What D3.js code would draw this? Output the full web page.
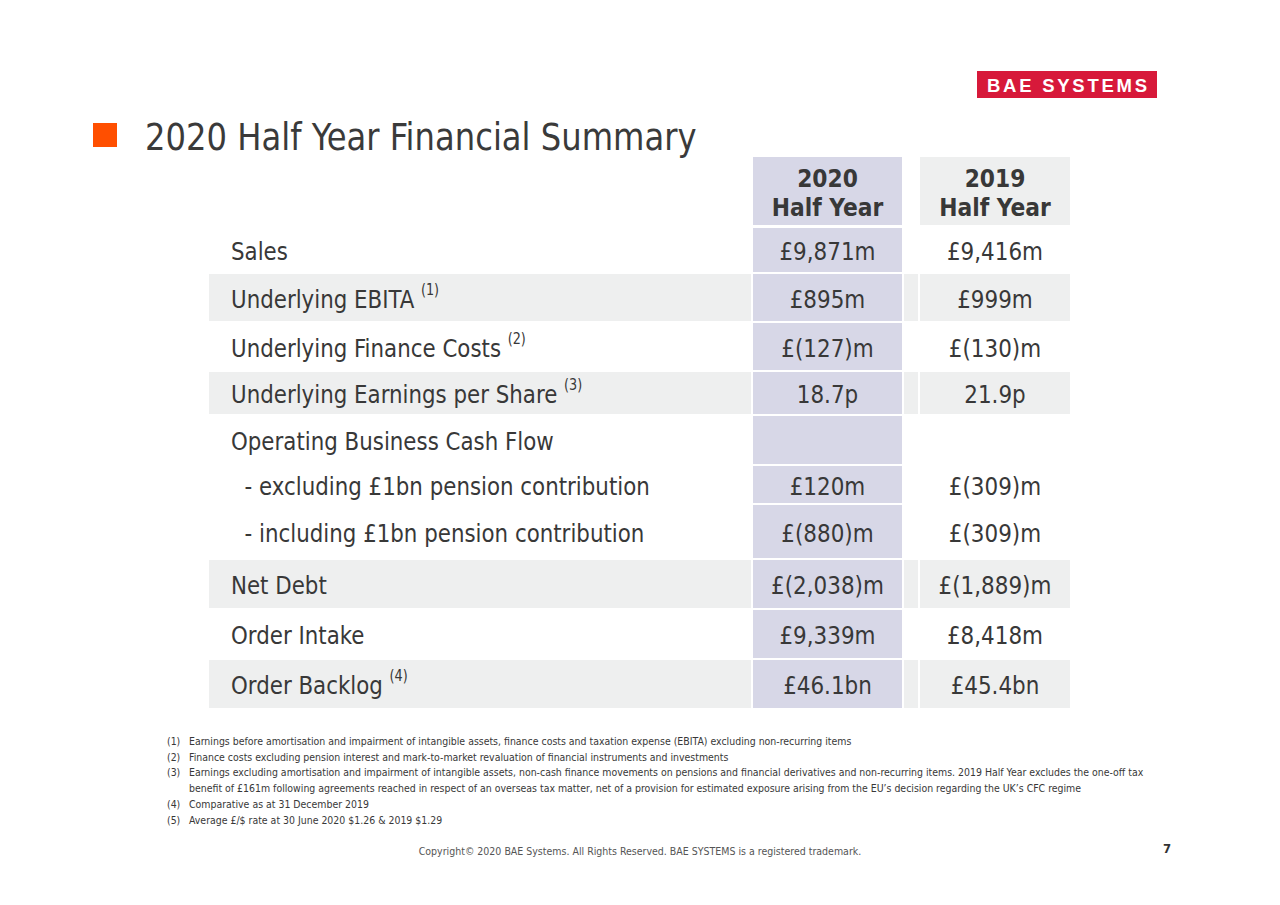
<!DOCTYPE html>
<html>
<head>
<meta charset="utf-8">
<script src="https://cdn.jsdelivr.net/npm/d3@7"></script>
<style>
  body { margin: 0; background: #fff; }
  text { font-family: "DejaVu Sans Condensed", "DejaVu Sans", sans-serif; }
</style>
</head>
<body>
<div id="chart"></div>
<script>
// table content
var rowLabels = ["Sales", "Underlying EBITA", "Underlying Finance Costs", "Underlying Earnings per Share",
    "Operating Business Cash Flow", "  - excluding £1bn pension contribution", "  - including £1bn pension contribution",
    "Net Debt", "Order Intake", "Order Backlog"]
var rowNotes = ["", "(1)", "(2)", "(3)", "", "", "", "", "", "(4)"]
var shadedRows = ["Underlying EBITA", "Underlying Earnings per Share", "Net Debt", "Order Backlog"]
var values2020 = ["£9,871m", "£895m", "£(127)m", "18.7p", "", "£120m", "£(880)m", "£(2,038)m", "£9,339m", "£46.1bn"]
var values2019 = ["£9,416m", "£999m", "£(130)m", "21.9p", "", "£(309)m", "£(309)m", "£(1,889)m", "£8,418m", "£45.4bn"]
var columnHeads = [["2020", "Half Year"], ["2019", "Half Year"]]
var footnotes = [
    ["(1)", "Earnings before amortisation and impairment of intangible assets, finance costs and taxation expense (EBITA) excluding non-recurring items"],
    ["(2)", "Finance costs excluding pension interest and mark-to-market revaluation of financial instruments and investments"],
    ["(3)", "Earnings excluding amortisation and impairment of intangible assets, non-cash finance movements on pensions and financial derivatives and non-recurring items. 2019 Half Year excludes the one-off tax"],
    ["", "benefit of £161m following agreements reached in respect of an overseas tax matter, net of a provision for estimated exposure arising from the EU’s decision regarding the UK’s CFC regime"],
    ["(4)", "Comparative as at 31 December 2019"],
    ["(5)", "Average £/$ rate at 30 June 2020 $1.26 & 2019 $1.29"]
]

// layout
var width = 1280, height = 905
var rowHeights = [46, 49, 49, 44, 50, 39, 55, 50, 50, 50]
var tableTop = 227, headTop = 157
var labelX0 = 209, labelX1 = 751
var col = {c2020: [753, 902], c2019: [920, 1070]}
var textColor = "#383838", shade = "#eeefef", lavender = "#d7d7e7"

// the slide font is a bit narrower than DejaVu Condensed, squeeze glyphs a little
function squeeze(sel, k) {
    sel.each(function () {
        var w = this.getComputedTextLength()
        if (w > 0) d3.select(this).attr("textLength", w * k).attr("lengthAdjust", "spacingAndGlyphs")
    })
}

var svg = d3.select("#chart").append("svg")
    .attr("width", width)
    .attr("height", height)

// row positions from cumulative heights
var starts = d3.cumsum([0].concat(rowHeights.slice(0, -1)))
var yRow = d3.scaleOrdinal().domain(rowLabels).range(Array.from(starts, s => s + tableTop))
var hRow = d3.scaleOrdinal().domain(rowLabels).range(rowHeights)

// logo
svg.append("rect").attr("x", 977).attr("y", 71).attr("width", 180).attr("height", 27).attr("fill", "#d7193a")
svg.append("text").attr("x", 1067).attr("y", 91.5).attr("text-anchor", "middle")
    .attr("textLength", 160).attr("lengthAdjust", "spacing")
    .style("font-family", "'Liberation Sans', Arial, sans-serif")
    .attr("font-weight", "bold").attr("font-size", "18.5px").attr("fill", "#fff")
    .text("BAE SYSTEMS")

// title
svg.append("rect").attr("x", 93).attr("y", 123).attr("width", 24).attr("height", 24).attr("fill", "#ff4f00")
svg.append("text").attr("x", 145).attr("y", 150)
    .attr("font-size", "37px").attr("fill", "#3a3a3a")
    .text("2020 Half Year Financial Summary")
    .call(squeeze, 0.968)

// header cells
var headG = svg.append("g")
headG.append("rect").attr("x", col.c2020[0]).attr("y", headTop).attr("width", col.c2020[1] - col.c2020[0])
    .attr("height", tableTop - headTop - 2).attr("fill", lavender)
headG.append("rect").attr("x", col.c2019[0]).attr("y", headTop).attr("width", col.c2019[1] - col.c2019[0])
    .attr("height", tableTop - headTop - 2).attr("fill", shade)
columnHeads.forEach((h, i) => {
    var c = i == 0 ? col.c2020 : col.c2019
    h.forEach((line, j) => {
        headG.append("text")
            .attr("x", (c[0] + c[1]) / 2)
            .attr("y", 187 + j * 29)
            .attr("text-anchor", "middle")
            .attr("font-size", "25px").attr("font-weight", "bold").attr("fill", textColor)
            .text(line)
            .call(squeeze, 0.97)
    })
})

// row backgrounds
var rows = svg.append("g").selectAll("g")
    .data(rowLabels)
    .enter().append("g")
    .attr("transform", d => "translate(0," + yRow(d) + ")")

rows.filter(d => shadedRows.includes(d)).each(function (d) {
    var g = d3.select(this)
    var segs = [[labelX0, labelX1], [904, 918], col.c2019]
    segs.forEach(s => {
        g.append("rect").attr("x", s[0]).attr("y", 1).attr("width", s[1] - s[0])
            .attr("height", hRow(d) - 2).attr("fill", shade)
    })
})

rows.append("rect")
    .attr("x", col.c2020[0]).attr("y", 1)
    .attr("width", col.c2020[1] - col.c2020[0])
    .attr("height", d => hRow(d) - 2)
    .attr("fill", lavender)

// labels + footnote markers (one text each, horizontally squeezed by the group)
var lbl = rows.append("g")
    .attr("transform", d => "translate(231," + (hRow(d) / 2 + 10) + ") scale(0.95,1)")
    .append("text")
    .attr("fill", textColor)
    .attr("xml:space", "preserve")
    .style("white-space", "pre")
lbl.append("tspan").attr("font-size", "25px").text(d => d)
lbl.append("tspan")
    .attr("font-size", "15px").attr("dx", 7).attr("dy", -13)
    .text((d, i) => rowNotes[i])

rows.append("text")
    .attr("x", (col.c2020[0] + col.c2020[1]) / 2)
    .attr("y", d => hRow(d) / 2 + 10)
    .attr("text-anchor", "middle")
    .attr("font-size", "25px").attr("fill", textColor)
    .text((d, i) => values2020[i])
    .call(squeeze, 0.955)

rows.append("text")
    .attr("x", (col.c2019[0] + col.c2019[1]) / 2)
    .attr("y", d => hRow(d) / 2 + 10)
    .attr("text-anchor", "middle")
    .attr("font-size", "25px").attr("fill", textColor)
    .text((d, i) => values2019[i])
    .call(squeeze, 0.955)

// footnotes
var fn = svg.append("g").selectAll("g")
    .data(footnotes)
    .enter().append("g")
    .attr("transform", (d, i) => "translate(0," + (745 + i * 15.7) + ")")
fn.append("text").attr("x", 167).attr("font-size", "10.4px").attr("fill", textColor).text(d => d[0])
fn.append("text").attr("x", 189).attr("font-size", "10.45px").attr("fill", textColor).text(d => d[1])

// footer
svg.append("text").attr("x", 640).attr("y", 855).attr("text-anchor", "middle")
    .attr("font-size", "10.5px").attr("fill", "#555")
    .text("Copyright© 2020 BAE Systems. All Rights Reserved. BAE SYSTEMS is a registered trademark.")
svg.append("text").attr("x", 1167).attr("y", 853).attr("text-anchor", "middle")
    .attr("font-size", "13px").attr("font-weight", "bold").attr("fill", "#333")
    .text("7")
</script>
</body>
</html>
